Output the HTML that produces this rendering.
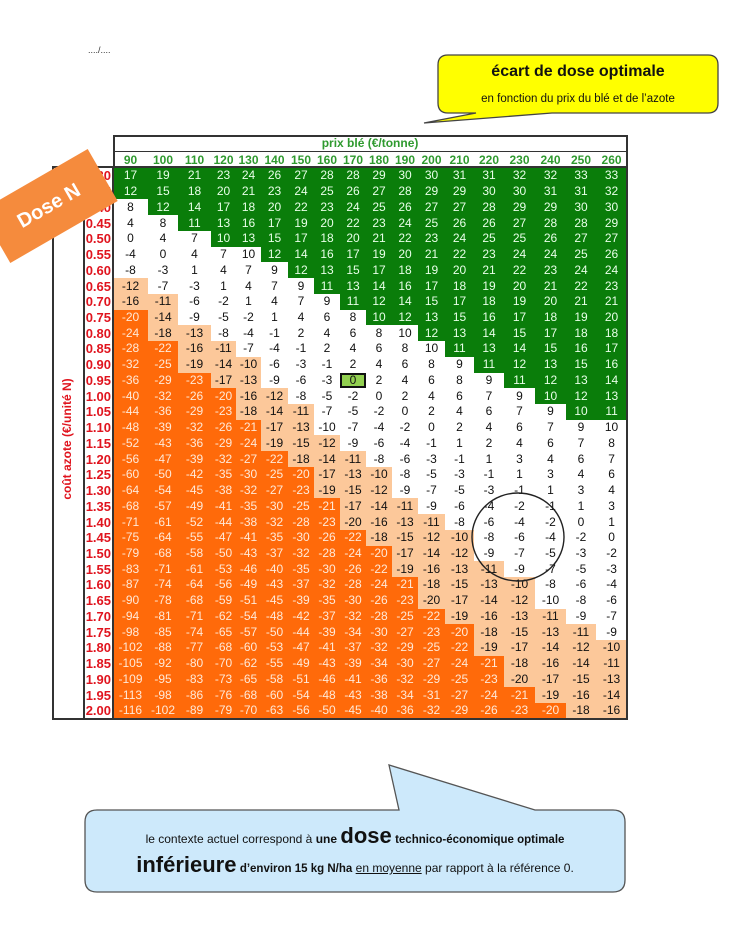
<!DOCTYPE html>
<html><head><meta charset="utf-8"><style>
body{margin:0;background:#fff}
#p{position:relative;width:747px;height:939px;overflow:hidden;font-family:"Liberation Sans",Arial,sans-serif}
table{position:absolute;left:83px;top:135px;border-collapse:collapse;table-layout:fixed;width:544px}
td{padding:0;text-align:center;font-size:12px;height:15.74px;line-height:15px;color:#111;white-space:nowrap}
td.o{background:#ff6a0a;color:#ffe9d8}
td.l{background:#fcc89a}
td.g{background:#0a7d0a;color:#e8ffe8}
td.z{background:#92d050;box-shadow:inset 0 0 0 2px #111}
th{font-weight:bold;color:#e0141e;font-size:13px;text-align:right;padding:0 2px 0 0}
tr.h1 td{height:14px;color:#2f9a2f;font-weight:bold;font-size:12px;border:1.5px solid #333;border-bottom:1px solid #333}
tr.h2 td{height:16px;color:#2f9a2f;font-weight:bold;font-size:12px}
.ln{position:absolute;background:#333}
</style></head><body><div id="p">
<div style="position:absolute;left:88px;top:45px;font-size:9px;color:#333">..../....</div>

<svg style="position:absolute;left:0;top:0" width="747" height="939">
<path d="M448,55 H708 Q718,55 718,65 V103 Q718,113 708,113 H552 L424,123 L476,113 H448 Q438,113 438,103 V65 Q438,55 448,55 Z" fill="#ffff00" stroke="#444" stroke-width="1.3"/>
<path d="M97,810 H399 L389,765 L535,810 H613 Q625,810 625,822 V880 Q625,892 613,892 H97 Q85,892 85,880 V822 Q85,810 97,810 Z" fill="#cde9fb" stroke="#555" stroke-width="1.3"/>
</svg>
<div style="position:absolute;left:438px;top:63px;width:280px;text-align:center;font-weight:bold;font-size:16px;color:#111">écart de dose optimale</div>
<div style="position:absolute;left:438px;top:93px;width:280px;text-align:center;font-size:11.5px;color:#111">en fonction du prix du blé et de l’azote</div>

<div class="ln" style="left:113px;top:135px;width:514px;height:1.5px"></div>
<table>
<colgroup><col style="width:30px"><col style="width:35px"><col style="width:30px"><col style="width:33px"><col style="width:25px"><col style="width:25px"><col style="width:27px"><col style="width:26px"><col style="width:26px"><col style="width:26px"><col style="width:26px"><col style="width:26px"><col style="width:27px"><col style="width:29px"><col style="width:30px"><col style="width:31px"><col style="width:31px"><col style="width:30px"><col style="width:31px"></colgroup>
<tr class="h1"><td style="border:none"></td><td colspan="18">prix blé (€/tonne)</td></tr>
<tr class="h2"><td></td><td>90</td><td>100</td><td>110</td><td>120</td><td>130</td><td>140</td><td>150</td><td>160</td><td>170</td><td>180</td><td>190</td><td>200</td><td>210</td><td>220</td><td>230</td><td>240</td><td>250</td><td>260</td></tr>
<tr><th>0.30</th><td class=g>17</td><td class=g>19</td><td class=g>21</td><td class=g>23</td><td class=g>24</td><td class=g>26</td><td class=g>27</td><td class=g>28</td><td class=g>28</td><td class=g>29</td><td class=g>30</td><td class=g>30</td><td class=g>31</td><td class=g>31</td><td class=g>32</td><td class=g>32</td><td class=g>33</td><td class=g>33</td></tr>
<tr><th>0.35</th><td class=g>12</td><td class=g>15</td><td class=g>18</td><td class=g>20</td><td class=g>21</td><td class=g>23</td><td class=g>24</td><td class=g>25</td><td class=g>26</td><td class=g>27</td><td class=g>28</td><td class=g>29</td><td class=g>29</td><td class=g>30</td><td class=g>30</td><td class=g>31</td><td class=g>31</td><td class=g>32</td></tr>
<tr><th>0.40</th><td>8</td><td class=g>12</td><td class=g>14</td><td class=g>17</td><td class=g>18</td><td class=g>20</td><td class=g>22</td><td class=g>23</td><td class=g>24</td><td class=g>25</td><td class=g>26</td><td class=g>27</td><td class=g>27</td><td class=g>28</td><td class=g>29</td><td class=g>29</td><td class=g>30</td><td class=g>30</td></tr>
<tr><th>0.45</th><td>4</td><td>8</td><td class=g>11</td><td class=g>13</td><td class=g>16</td><td class=g>17</td><td class=g>19</td><td class=g>20</td><td class=g>22</td><td class=g>23</td><td class=g>24</td><td class=g>25</td><td class=g>26</td><td class=g>26</td><td class=g>27</td><td class=g>28</td><td class=g>28</td><td class=g>29</td></tr>
<tr><th>0.50</th><td>0</td><td>4</td><td>7</td><td class=g>10</td><td class=g>13</td><td class=g>15</td><td class=g>17</td><td class=g>18</td><td class=g>20</td><td class=g>21</td><td class=g>22</td><td class=g>23</td><td class=g>24</td><td class=g>25</td><td class=g>25</td><td class=g>26</td><td class=g>27</td><td class=g>27</td></tr>
<tr><th>0.55</th><td>-4</td><td>0</td><td>4</td><td>7</td><td>10</td><td class=g>12</td><td class=g>14</td><td class=g>16</td><td class=g>17</td><td class=g>19</td><td class=g>20</td><td class=g>21</td><td class=g>22</td><td class=g>23</td><td class=g>24</td><td class=g>24</td><td class=g>25</td><td class=g>26</td></tr>
<tr><th>0.60</th><td>-8</td><td>-3</td><td>1</td><td>4</td><td>7</td><td>9</td><td class=g>12</td><td class=g>13</td><td class=g>15</td><td class=g>17</td><td class=g>18</td><td class=g>19</td><td class=g>20</td><td class=g>21</td><td class=g>22</td><td class=g>23</td><td class=g>24</td><td class=g>24</td></tr>
<tr><th>0.65</th><td class=l>-12</td><td>-7</td><td>-3</td><td>1</td><td>4</td><td>7</td><td>9</td><td class=g>11</td><td class=g>13</td><td class=g>14</td><td class=g>16</td><td class=g>17</td><td class=g>18</td><td class=g>19</td><td class=g>20</td><td class=g>21</td><td class=g>22</td><td class=g>23</td></tr>
<tr><th>0.70</th><td class=l>-16</td><td class=l>-11</td><td>-6</td><td>-2</td><td>1</td><td>4</td><td>7</td><td>9</td><td class=g>11</td><td class=g>12</td><td class=g>14</td><td class=g>15</td><td class=g>17</td><td class=g>18</td><td class=g>19</td><td class=g>20</td><td class=g>21</td><td class=g>21</td></tr>
<tr><th>0.75</th><td class=o>-20</td><td class=l>-14</td><td>-9</td><td>-5</td><td>-2</td><td>1</td><td>4</td><td>6</td><td>8</td><td class=g>10</td><td class=g>12</td><td class=g>13</td><td class=g>15</td><td class=g>16</td><td class=g>17</td><td class=g>18</td><td class=g>19</td><td class=g>20</td></tr>
<tr><th>0.80</th><td class=o>-24</td><td class=l>-18</td><td class=l>-13</td><td>-8</td><td>-4</td><td>-1</td><td>2</td><td>4</td><td>6</td><td>8</td><td>10</td><td class=g>12</td><td class=g>13</td><td class=g>14</td><td class=g>15</td><td class=g>17</td><td class=g>18</td><td class=g>18</td></tr>
<tr><th>0.85</th><td class=o>-28</td><td class=o>-22</td><td class=l>-16</td><td class=l>-11</td><td>-7</td><td>-4</td><td>-1</td><td>2</td><td>4</td><td>6</td><td>8</td><td>10</td><td class=g>11</td><td class=g>13</td><td class=g>14</td><td class=g>15</td><td class=g>16</td><td class=g>17</td></tr>
<tr><th>0.90</th><td class=o>-32</td><td class=o>-25</td><td class=l>-19</td><td class=l>-14</td><td class=l>-10</td><td>-6</td><td>-3</td><td>-1</td><td>2</td><td>4</td><td>6</td><td>8</td><td>9</td><td class=g>11</td><td class=g>12</td><td class=g>13</td><td class=g>15</td><td class=g>16</td></tr>
<tr><th>0.95</th><td class=o>-36</td><td class=o>-29</td><td class=o>-23</td><td class=l>-17</td><td class=l>-13</td><td>-9</td><td>-6</td><td>-3</td><td class=z>0</td><td>2</td><td>4</td><td>6</td><td>8</td><td>9</td><td class=g>11</td><td class=g>12</td><td class=g>13</td><td class=g>14</td></tr>
<tr><th>1.00</th><td class=o>-40</td><td class=o>-32</td><td class=o>-26</td><td class=o>-20</td><td class=l>-16</td><td class=l>-12</td><td>-8</td><td>-5</td><td>-2</td><td>0</td><td>2</td><td>4</td><td>6</td><td>7</td><td>9</td><td class=g>10</td><td class=g>12</td><td class=g>13</td></tr>
<tr><th>1.05</th><td class=o>-44</td><td class=o>-36</td><td class=o>-29</td><td class=o>-23</td><td class=l>-18</td><td class=l>-14</td><td class=l>-11</td><td>-7</td><td>-5</td><td>-2</td><td>0</td><td>2</td><td>4</td><td>6</td><td>7</td><td>9</td><td class=g>10</td><td class=g>11</td></tr>
<tr><th>1.10</th><td class=o>-48</td><td class=o>-39</td><td class=o>-32</td><td class=o>-26</td><td class=o>-21</td><td class=l>-17</td><td class=l>-13</td><td>-10</td><td>-7</td><td>-4</td><td>-2</td><td>0</td><td>2</td><td>4</td><td>6</td><td>7</td><td>9</td><td>10</td></tr>
<tr><th>1.15</th><td class=o>-52</td><td class=o>-43</td><td class=o>-36</td><td class=o>-29</td><td class=o>-24</td><td class=l>-19</td><td class=l>-15</td><td class=l>-12</td><td>-9</td><td>-6</td><td>-4</td><td>-1</td><td>1</td><td>2</td><td>4</td><td>6</td><td>7</td><td>8</td></tr>
<tr><th>1.20</th><td class=o>-56</td><td class=o>-47</td><td class=o>-39</td><td class=o>-32</td><td class=o>-27</td><td class=o>-22</td><td class=l>-18</td><td class=l>-14</td><td class=l>-11</td><td>-8</td><td>-6</td><td>-3</td><td>-1</td><td>1</td><td>3</td><td>4</td><td>6</td><td>7</td></tr>
<tr><th>1.25</th><td class=o>-60</td><td class=o>-50</td><td class=o>-42</td><td class=o>-35</td><td class=o>-30</td><td class=o>-25</td><td class=o>-20</td><td class=l>-17</td><td class=l>-13</td><td class=l>-10</td><td>-8</td><td>-5</td><td>-3</td><td>-1</td><td>1</td><td>3</td><td>4</td><td>6</td></tr>
<tr><th>1.30</th><td class=o>-64</td><td class=o>-54</td><td class=o>-45</td><td class=o>-38</td><td class=o>-32</td><td class=o>-27</td><td class=o>-23</td><td class=l>-19</td><td class=l>-15</td><td class=l>-12</td><td>-9</td><td>-7</td><td>-5</td><td>-3</td><td>-1</td><td>1</td><td>3</td><td>4</td></tr>
<tr><th>1.35</th><td class=o>-68</td><td class=o>-57</td><td class=o>-49</td><td class=o>-41</td><td class=o>-35</td><td class=o>-30</td><td class=o>-25</td><td class=o>-21</td><td class=l>-17</td><td class=l>-14</td><td class=l>-11</td><td>-9</td><td>-6</td><td>-4</td><td>-2</td><td>-1</td><td>1</td><td>3</td></tr>
<tr><th>1.40</th><td class=o>-71</td><td class=o>-61</td><td class=o>-52</td><td class=o>-44</td><td class=o>-38</td><td class=o>-32</td><td class=o>-28</td><td class=o>-23</td><td class=l>-20</td><td class=l>-16</td><td class=l>-13</td><td class=l>-11</td><td>-8</td><td>-6</td><td>-4</td><td>-2</td><td>0</td><td>1</td></tr>
<tr><th>1.45</th><td class=o>-75</td><td class=o>-64</td><td class=o>-55</td><td class=o>-47</td><td class=o>-41</td><td class=o>-35</td><td class=o>-30</td><td class=o>-26</td><td class=o>-22</td><td class=l>-18</td><td class=l>-15</td><td class=l>-12</td><td class=l>-10</td><td>-8</td><td>-6</td><td>-4</td><td>-2</td><td>0</td></tr>
<tr><th>1.50</th><td class=o>-79</td><td class=o>-68</td><td class=o>-58</td><td class=o>-50</td><td class=o>-43</td><td class=o>-37</td><td class=o>-32</td><td class=o>-28</td><td class=o>-24</td><td class=o>-20</td><td class=l>-17</td><td class=l>-14</td><td class=l>-12</td><td>-9</td><td>-7</td><td>-5</td><td>-3</td><td>-2</td></tr>
<tr><th>1.55</th><td class=o>-83</td><td class=o>-71</td><td class=o>-61</td><td class=o>-53</td><td class=o>-46</td><td class=o>-40</td><td class=o>-35</td><td class=o>-30</td><td class=o>-26</td><td class=o>-22</td><td class=l>-19</td><td class=l>-16</td><td class=l>-13</td><td class=l>-11</td><td>-9</td><td>-7</td><td>-5</td><td>-3</td></tr>
<tr><th>1.60</th><td class=o>-87</td><td class=o>-74</td><td class=o>-64</td><td class=o>-56</td><td class=o>-49</td><td class=o>-43</td><td class=o>-37</td><td class=o>-32</td><td class=o>-28</td><td class=o>-24</td><td class=o>-21</td><td class=l>-18</td><td class=l>-15</td><td class=l>-13</td><td class=l>-10</td><td>-8</td><td>-6</td><td>-4</td></tr>
<tr><th>1.65</th><td class=o>-90</td><td class=o>-78</td><td class=o>-68</td><td class=o>-59</td><td class=o>-51</td><td class=o>-45</td><td class=o>-39</td><td class=o>-35</td><td class=o>-30</td><td class=o>-26</td><td class=o>-23</td><td class=l>-20</td><td class=l>-17</td><td class=l>-14</td><td class=l>-12</td><td>-10</td><td>-8</td><td>-6</td></tr>
<tr><th>1.70</th><td class=o>-94</td><td class=o>-81</td><td class=o>-71</td><td class=o>-62</td><td class=o>-54</td><td class=o>-48</td><td class=o>-42</td><td class=o>-37</td><td class=o>-32</td><td class=o>-28</td><td class=o>-25</td><td class=o>-22</td><td class=l>-19</td><td class=l>-16</td><td class=l>-13</td><td class=l>-11</td><td>-9</td><td>-7</td></tr>
<tr><th>1.75</th><td class=o>-98</td><td class=o>-85</td><td class=o>-74</td><td class=o>-65</td><td class=o>-57</td><td class=o>-50</td><td class=o>-44</td><td class=o>-39</td><td class=o>-34</td><td class=o>-30</td><td class=o>-27</td><td class=o>-23</td><td class=o>-20</td><td class=l>-18</td><td class=l>-15</td><td class=l>-13</td><td class=l>-11</td><td>-9</td></tr>
<tr><th>1.80</th><td class=o>-102</td><td class=o>-88</td><td class=o>-77</td><td class=o>-68</td><td class=o>-60</td><td class=o>-53</td><td class=o>-47</td><td class=o>-41</td><td class=o>-37</td><td class=o>-32</td><td class=o>-29</td><td class=o>-25</td><td class=o>-22</td><td class=l>-19</td><td class=l>-17</td><td class=l>-14</td><td class=l>-12</td><td class=l>-10</td></tr>
<tr><th>1.85</th><td class=o>-105</td><td class=o>-92</td><td class=o>-80</td><td class=o>-70</td><td class=o>-62</td><td class=o>-55</td><td class=o>-49</td><td class=o>-43</td><td class=o>-39</td><td class=o>-34</td><td class=o>-30</td><td class=o>-27</td><td class=o>-24</td><td class=o>-21</td><td class=l>-18</td><td class=l>-16</td><td class=l>-14</td><td class=l>-11</td></tr>
<tr><th>1.90</th><td class=o>-109</td><td class=o>-95</td><td class=o>-83</td><td class=o>-73</td><td class=o>-65</td><td class=o>-58</td><td class=o>-51</td><td class=o>-46</td><td class=o>-41</td><td class=o>-36</td><td class=o>-32</td><td class=o>-29</td><td class=o>-25</td><td class=o>-23</td><td class=l>-20</td><td class=l>-17</td><td class=l>-15</td><td class=l>-13</td></tr>
<tr><th>1.95</th><td class=o>-113</td><td class=o>-98</td><td class=o>-86</td><td class=o>-76</td><td class=o>-68</td><td class=o>-60</td><td class=o>-54</td><td class=o>-48</td><td class=o>-43</td><td class=o>-38</td><td class=o>-34</td><td class=o>-31</td><td class=o>-27</td><td class=o>-24</td><td class=o>-21</td><td class=l>-19</td><td class=l>-16</td><td class=l>-14</td></tr>
<tr><th>2.00</th><td class=o>-116</td><td class=o>-102</td><td class=o>-89</td><td class=o>-79</td><td class=o>-70</td><td class=o>-63</td><td class=o>-56</td><td class=o>-50</td><td class=o>-45</td><td class=o>-40</td><td class=o>-36</td><td class=o>-32</td><td class=o>-29</td><td class=o>-26</td><td class=o>-23</td><td class=o>-20</td><td class=l>-18</td><td class=l>-16</td></tr>
</table>

<div class="ln" style="left:113px;top:135px;width:1.5px;height:32px"></div>
<div class="ln" style="left:626px;top:135px;width:1.5px;height:584px"></div>
<div class="ln" style="left:113px;top:166px;width:514px;height:1.5px"></div>
<div class="ln" style="left:52px;top:166px;width:62px;height:1.5px"></div>
<div class="ln" style="left:52px;top:166px;width:1.5px;height:553px"></div>
<div class="ln" style="left:83px;top:166px;width:1.5px;height:553px"></div>
<div class="ln" style="left:112px;top:166px;width:2px;height:553px"></div>
<div class="ln" style="left:52px;top:718px;width:576px;height:1.5px"></div>

<div style="position:absolute;left:-33px;top:432px;width:200px;text-align:center;transform:rotate(-90deg);color:#e0141e;font-weight:bold;font-size:12px">coût azote (€/unité N)</div>

<div style="position:absolute;left:-13px;top:176px;width:124px;height:60px;background:#f58b3d;transform:rotate(-30deg);color:#fff;font-weight:bold;font-size:20px;line-height:60px;text-align:center">Dose N</div>

<svg style="position:absolute;left:0;top:0;pointer-events:none" width="747" height="939">
<ellipse cx="518" cy="537" rx="46" ry="44" fill="none" stroke="#222" stroke-width="1.4"/>
</svg>

<div style="position:absolute;left:85px;top:826px;width:540px;text-align:center;font-size:12px;color:#111;line-height:20px">le contexte actuel correspond à <b>une</b> <b style="font-size:22px">dose</b> <b style="font-size:11.5px">technico-économique optimale</b></div>
<div style="position:absolute;left:85px;top:853px;width:540px;text-align:center;font-size:12px;color:#111;line-height:24px"><b style="font-size:22px">inférieure</b> <b style="font-size:11.5px">d’environ 15 kg N/ha</b> <u>en moyenne</u> par rapport à la référence 0.</div>
</div></body></html>
